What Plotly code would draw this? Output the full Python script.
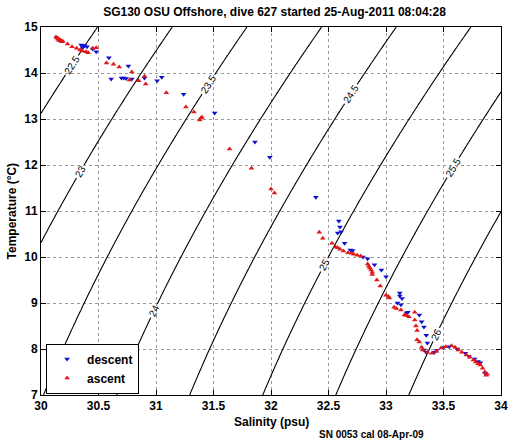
import numpy as np
import plotly.graph_objects as go

# ---- data ----
descent_S = [30.35, 30.37, 30.38, 30.40, 30.36, 30.45, 30.48, 30.59, 30.76, 30.61, 30.70, 30.72,
             30.74, 30.79, 30.90, 31.01, 31.05, 31.24, 31.51, 31.86, 31.99, 32.39, 32.59, 32.60,
             32.58, 32.61, 32.64, 32.69, 32.71, 32.80, 32.84, 32.90, 32.96, 33.00, 33.12, 33.12,
             33.14, 33.10, 33.13, 33.18, 33.19, 33.29, 33.31, 33.33, 33.35, 33.36, 33.33, 33.35,
             33.42, 33.44, 33.50, 33.55, 33.62, 33.69, 33.72, 33.77, 33.80, 33.82, 33.86]
descent_T = [14.61, 14.60, 14.59, 14.57, 14.55, 14.52, 14.46, 14.33, 14.15, 13.87, 13.89, 13.89,
             13.88, 13.87, 13.89, 13.83, 13.91, 13.54, 13.13, 12.50, 12.17, 11.30, 10.78, 10.65,
             10.52, 10.55, 10.30, 10.15, 10.14, 10.00, 9.96, 9.83, 9.72, 9.57, 9.22, 9.15,
             9.10, 9.00, 8.96, 8.78, 8.80, 8.74, 8.59, 8.48, 8.30, 8.13, 7.98, 7.93,
             7.93, 7.97, 8.03, 8.05, 8.00, 7.91, 7.84, 7.78, 7.73, 7.70, 7.48]

ascent_S = [30.13, 30.14, 30.15, 30.16, 30.17, 30.18, 30.15, 30.19, 30.23, 30.27, 30.31, 30.34,
            30.36, 30.39, 30.41, 30.45, 30.48, 30.57, 30.63, 30.68, 30.79, 30.77, 30.85, 30.90,
            30.91, 31.09, 31.26, 31.33, 31.38, 31.39, 31.40, 31.64, 31.83, 32.00, 32.03, 32.42,
            32.45, 32.53, 32.56, 32.58, 32.60, 32.63, 32.67, 32.70, 32.72, 32.75, 32.78, 32.84,
            32.85, 32.86, 32.87, 32.88, 32.88, 32.92, 32.95, 33.00, 33.02, 33.03, 33.07, 33.09,
            33.13, 33.16, 33.18, 33.20, 33.25, 33.25, 33.26, 33.27, 33.27, 33.29, 33.31, 33.32,
            33.36, 33.40, 33.44, 33.48, 33.52, 33.57, 33.60, 33.63, 33.66, 33.70, 33.73, 33.76,
            33.78, 33.80, 33.82, 33.84, 33.86, 33.87, 33.88]
ascent_T = [14.78, 14.76, 14.73, 14.70, 14.72, 14.68, 14.75, 14.69, 14.63, 14.57, 14.54, 14.50,
            14.48, 14.46, 14.44, 14.54, 14.55, 14.22, 14.19, 14.13, 14.02, 13.85, 13.83, 13.93,
            13.76, 13.57, 13.26, 13.15, 12.98, 13.02, 13.04, 12.35, 11.93, 11.48, 11.39, 10.54,
            10.41, 10.30, 10.22, 10.20, 10.17, 10.13, 10.09, 10.08, 10.06, 10.04, 10.02, 9.85,
            9.80, 9.76, 9.72, 9.67, 9.62, 9.50, 9.37, 9.17, 9.14, 9.11, 8.91, 8.88,
            8.85, 8.74, 8.73, 8.70, 8.80, 8.63, 8.50, 8.40, 8.20, 8.15, 8.04, 7.98,
            7.93, 7.91, 7.95, 8.02, 8.05, 8.07, 8.04, 7.98, 7.93, 7.87, 7.82, 7.76,
            7.72, 7.68, 7.65, 7.58, 7.50, 7.43, 7.45]

x_ticks = [30, 30.5, 31, 31.5, 32, 32.5, 33, 33.5, 34]
x_tick_labels = ["30", "30.5", "31", "31.5", "32", "32.5", "33", "33.5", "34"]
y_ticks = [7, 8, 9, 10, 11, 12, 13, 14, 15]
sigma_levels = dict(start=22.5, end=26.0, size=0.5)

# ---- sigma-theta background field (UNESCO EOS-80 at p=0) ----
S_grid = np.linspace(30, 34, 161)
T_grid = np.linspace(7, 15, 161)
SS, TT = np.meshgrid(S_grid, T_grid)
rw = (999.842594 + 6.793952e-2 * TT - 9.095290e-3 * TT**2 + 1.001685e-4 * TT**3
      - 1.120083e-6 * TT**4 + 6.536332e-9 * TT**5)
rho = (rw + SS * (0.824493 - 4.0899e-3 * TT + 7.6438e-5 * TT**2 - 8.2467e-7 * TT**3 + 5.3875e-9 * TT**4)
       + SS**1.5 * (-5.72466e-3 + 1.0227e-4 * TT - 1.6546e-6 * TT**2) + 4.8314e-4 * SS**2)
sigma = rho - 1000.0

FONT = "Liberation Sans, Arial, Helvetica, sans-serif"
BOLD12 = dict(family=FONT, size=12, color="black", weight="bold")

fig = go.Figure()
fig.add_trace(go.Contour(
    x=S_grid, y=T_grid, z=sigma,
    contours=dict(coloring="lines", showlabels=True, labelfont=dict(size=10, color="black", family=FONT),
                  **sigma_levels),
    colorscale=[[0, "black"], [1, "black"]], showscale=False,
    line=dict(width=1.1), hoverinfo="skip", showlegend=False,
))
fig.add_trace(go.Scatter(
    x=descent_S, y=descent_T, mode="markers", name="descent",
    marker=dict(symbol="triangle-down", size=5, color="#1010d0"),
))
fig.add_trace(go.Scatter(
    x=ascent_S, y=ascent_T, mode="markers", name="ascent",
    marker=dict(symbol="triangle-up", size=5, color="#e01818"),
))

axis_common = dict(showline=True, linecolor="black", linewidth=1, mirror="ticks", ticks="inside",
                   ticklen=5, tickcolor="black", showgrid=True, gridcolor="#9a9a9a", griddash="dot",
                   gridwidth=1, zeroline=False, tickfont=BOLD12)

fig.update_layout(
    width=519, height=442,
    margin=dict(l=41, r=11, t=27, b=47),
    paper_bgcolor="white", plot_bgcolor="white",
    title=dict(text="SG130 OSU Offshore, dive 627 started 25-Aug-2011 08:04:28",
               x=0.529, xanchor="center", y=0.973, yanchor="middle", font=BOLD12),
    xaxis=dict(range=[30, 34], tickvals=x_ticks, ticktext=x_tick_labels, **axis_common),
    yaxis=dict(range=[7, 15], tickvals=y_ticks, **axis_common),
    legend=dict(x=0.011, y=0.004, xanchor="left", yanchor="bottom",
                bordercolor="black", borderwidth=1, bgcolor="white",
                font=dict(family=FONT, size=12, color="black", weight="bold"),
                itemwidth=30, tracegroupgap=0),
    showlegend=True,
    annotations=[
        dict(text="Salinity (psu)", xref="paper", yref="paper", x=0.5, y=-0.073,
             xanchor="center", yanchor="middle", showarrow=False, font=BOLD12),
        dict(text="Temperature (°C)", xref="paper", yref="paper", x=-0.062, y=0.5,
             xanchor="center", yanchor="middle", textangle=-90, showarrow=False, font=BOLD12),
        dict(text="SN 0053 cal 08-Apr-09", xref="paper", yref="paper",
             x=0.599, y=-0.108, xanchor="left", yanchor="middle", showarrow=False,
             font=dict(family=FONT, size=10, color="black", weight="bold")),
    ],
)

fig.write_html("out.html",
               config=dict(displayModeBar=False, staticPlot=False),
               post_script="document.body.style.margin='0';document.body.style.padding='0';"
                           "document.body.style.overflow='hidden';")
